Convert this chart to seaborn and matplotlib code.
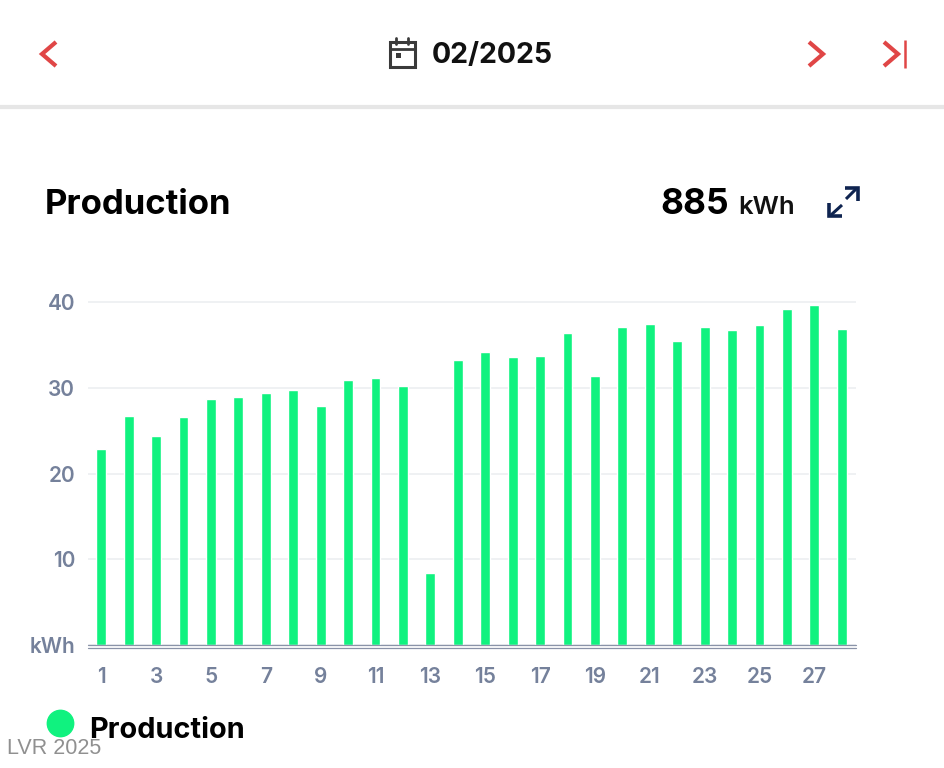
import matplotlib
matplotlib.use("Agg")
import matplotlib.pyplot as plt
import pandas as pd
import seaborn as sns
from matplotlib.lines import Line2D
from matplotlib.patches import Rectangle

# ---------------- DATA ----------------
days = list(range(1, 29))
production = [22.9, 26.7, 24.4, 26.6, 28.7, 28.9, 29.4, 29.7, 27.9, 30.9,
              31.1, 30.2, 8.4, 33.2, 34.2, 33.6, 33.7, 36.4, 31.4, 37.1,
              37.4, 35.5, 37.1, 36.7, 37.3, 39.2, 39.6, 36.9]
y_ticks = [0, 10, 20, 30, 40]
y_labels = ["kWh", "10", "20", "30", "40"]
x_labels = [str(d) if d % 2 == 1 else "" for d in days]
month_label = "02/2025"
total_value = "885"

GREEN = "#10f27f"
RED = "#e04646"
AXIS_TEXT = "#75819b"
NAVY = "#0f2450"
DARK = "#3a3a3a"

sns.set_theme(style="white")
plt.rcParams["font.family"] = ["Inter", "DejaVu Sans"]

W, H = 944, 768
fig = plt.figure(figsize=(W / 100, H / 100), dpi=100, facecolor="white")

# ---------------- BARS ----------------
ax_left, ax_right, ax_top, ax_bottom = 87.5, 855.5, 290, 645
ax = fig.add_axes([ax_left / W, 1 - ax_bottom / H,
                   (ax_right - ax_left) / W, (ax_bottom - ax_top) / H])
df = pd.DataFrame({"day": days, "production": production})
sns.barplot(data=df, x="day", y="production", color=GREEN, saturation=1,
            width=0.36, ax=ax, zorder=3)
ax.set_xlim(-0.5, 27.5)
ax.set_ylim(0, (ax_bottom - ax_top) / 8.575)
ax.set_xlabel("")
ax.set_ylabel("")
ax.set_xticks(range(len(days)))
ax.set_xticklabels(x_labels)
ax.set_yticks(y_ticks)
ax.set_yticklabels(y_labels)
ax.tick_params(axis="x", length=0, pad=16, labelsize=15, labelcolor=AXIS_TEXT)
ax.tick_params(axis="y", length=0, pad=9, labelsize=15, labelcolor=AXIS_TEXT)
for lab in ax.get_xticklabels() + ax.get_yticklabels():
    lab.set_fontweight("semibold")
ax.grid(axis="y", color="#eef0f2", linewidth=1.3, zorder=0)
ax.set_axisbelow(True)
sns.despine(ax=ax, left=True, top=True, right=True, bottom=True)

# double baseline under the bars
ax.axhline(0, color="#8a93a8", linewidth=0.9, zorder=4, clip_on=False)
base = Line2D([ax_left / W, ax_right / W], [1 - 648 / H, 1 - 648 / H],
              transform=fig.transFigure, color="#8a93a8", linewidth=0.9)
fig.add_artist(base)

# ---------------- APP CHROME (pixel coordinates) ----------------
ui = fig.add_axes([0, 0, 1, 1], facecolor="none", zorder=5)
ui.set_xlim(0, W)
ui.set_ylim(H, 0)
ui.axis("off")


def stroke(xs, ys, color, lw=3.0):
    ui.plot(xs, ys, color=color, linewidth=lw, solid_capstyle="butt",
            solid_joinstyle="miter")


# nav arrows
stroke([56, 42, 56], [42, 54, 66], RED)
stroke([809, 823, 809], [42, 54, 66], RED)
stroke([884, 898, 884], [42, 54, 66], RED)
stroke([905, 905], [40, 68], RED, lw=1.8)

# calendar icon
ui.add_patch(Rectangle((389.5, 41.5), 25, 25, fill=False, edgecolor=DARK, linewidth=2.2))
ui.plot([389.5, 414.5], [48.5, 48.5], color=DARK, linewidth=2)
ui.plot([396, 396], [38, 44], color=DARK, linewidth=2)
ui.plot([408, 408], [38, 44], color=DARK, linewidth=2)
ui.add_patch(Rectangle((396, 53), 5, 5, color=DARK, linewidth=0))

ui.text(432, 55, month_label, fontsize=20.5, fontweight="bold", color="#111111",
        ha="left", va="center")

# header shadow
ui.plot([0, W], [107, 107], color="#e6e6e6", linewidth=3, solid_capstyle="butt")

# title row
ui.text(45, 205, "Production", fontsize=25, fontweight="bold", color="black",
        ha="left", va="center")
ui.text(660, 205, total_value, fontsize=25.5, fontweight="bold", color="black",
        ha="left", va="center")
ui.text(738, 207, "kWh", fontsize=18.5, fontweight="semibold", color="#111111",
        ha="left", va="center")

# expand icon
stroke([846, 856], [199, 189], NAVY, lw=2.2)
stroke([845, 858, 858], [188, 188, 201], NAVY, lw=2.6)
stroke([842, 831], [205, 215], NAVY, lw=2.2)
stroke([829, 829, 842], [203, 216, 216], NAVY, lw=2.6)

# legend
leg = ax.legend(handles=[Line2D([], [], linestyle="", marker="o", markersize=19,
                                color=GREEN, label="Production")],
                loc="center left", bbox_to_anchor=(45.5 / W, 1 - 730 / H),
                bbox_transform=fig.transFigure, frameon=False,
                handlelength=1, handletextpad=0.5,
                prop={"size": 20.8, "weight": "bold"}, labelcolor="black",
                borderpad=0, borderaxespad=0)
# dot sits a little higher than the label
for h in leg.legend_handles:
    h.set_ydata([y + 3.5 for y in h.get_ydata()])

# watermark
ui.text(7, 748, "LVR 2025", fontsize=15.5, color="#555555", alpha=0.65,
        ha="left", va="center", family=["Liberation Sans", "DejaVu Sans"])

fig.savefig("out.png", dpi=100)
